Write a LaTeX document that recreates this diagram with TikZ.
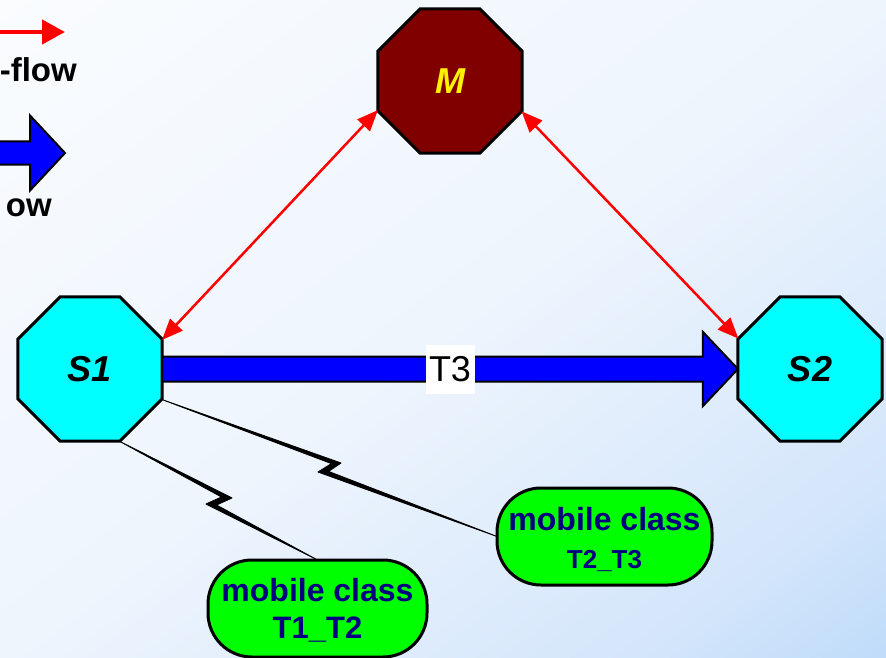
\documentclass[tikz,border=0pt]{standalone}
\usepackage{fontspec}
\setmainfont{Liberation Sans}
\usetikzlibrary{shapes.geometric,arrows.meta,calc}
\definecolor{mfill}{RGB}{128,0,0}
\definecolor{sfill}{RGB}{0,255,255}
\definecolor{gfill}{RGB}{0,255,0}
\definecolor{navytext}{RGB}{0,0,128}
\definecolor{flowblue}{RGB}{0,0,255}
\definecolor{flowred}{RGB}{255,0,0}
\definecolor{bgmid}{RGB}{238,245,253}
\definecolor{bgthree}{RGB}{212,230,251}
\definecolor{bgend}{RGB}{160,204,248}
% diagonal wash: white at the top left, light blue at the bottom right
\pgfdeclarehorizontalshading{bgwash}{100bp}{color(0bp)=(white); color(50bp)=(bgmid);
  color(75bp)=(bgthree); color(100bp)=(bgend)}
\tikzset{
  octo/.style={regular polygon, regular polygon sides=8, minimum size=156pt,
    inner sep=0pt, outer sep=0pt, draw=black, line width=3pt,
    font=\fontsize{36}{36}\selectfont\bfseries\itshape},
  mobbox/.style={draw=black, fill=gfill, line width=3pt, rounded corners=44pt,
    text=navytext, align=center, inner sep=0pt, outer sep=0pt,
    minimum height=97pt},
  redflow/.style={draw=flowred, line width=2.5pt,
    {Triangle[length=21pt,width=17pt]}-{Triangle[length=21pt,width=17pt]}},
  bluebody/.style={fill=flowblue, draw=black, line width=2pt, line join=miter},
  bolt/.style={fill=black, draw=black, line width=0.9pt, line join=round},
  legendtext/.style={anchor=base east, inner sep=0pt,
    font=\fontsize{33}{33}\selectfont\bfseries}
}
\begin{document}
\begin{tikzpicture}[x=1pt,y=-1pt]
\useasboundingbox (0,0) rectangle (886,658);
\clip (0,0) rectangle (886,658);
\shade[shading=bgwash, shading angle=-53.4] (0,0) rectangle (886,658);

% legend
\coordinate (lr0) at (-10,32);
\coordinate (lr1) at (65,32);
\draw[flowred, line width=4.5pt, -{Triangle[length=23pt,width=24pt]}] (lr0) -- (lr1);
\node[legendtext] (lt1) at (77,82) {-flow};
\coordinate (lb0) at (-10,153);
\coordinate (lb1) at (65,153);
\draw[bluebody] ($(lb0)+(0,-11.5)$) -- ($(lb1)+(-35,-11.5)$) -- ($(lb1)+(-35,-37.5)$)
  -- (lb1) -- ($(lb1)+(-35,37.5)$) -- ($(lb1)+(-35,11.5)$) -- ($(lb0)+(0,11.5)$) -- cycle;
\node[legendtext] (lt2) at (52,216) {ow};

% stations
\node[octo, fill=mfill, text=yellow] (M) at (450,81) {M};
\node[octo, fill=sfill] (S1) at (90,369) {S1};
\node[octo, fill=sfill] (S2) at (810,369) {S2};

% mobile classes
\node[mobbox, minimum width=219pt, font=\fontsize{32}{37}\selectfont\bfseries]
  (c12) at (317.5,608.5)
  {\rule{0pt}{27pt}mobile class\\ \fontsize{31}{37}\selectfont T1\_T2};
\node[mobbox, minimum width=215pt, font=\fontsize{32}{38}\selectfont\bfseries]
  (c23) at (604.5,536.5)
  {\rule{0pt}{30pt}mobile class\\ \fontsize{26}{38}\selectfont T2\_T3};

% control links
\draw[redflow] (M.202.5) -- (S1.22.5);
\draw[redflow] (M.337.5) -- (S2.157.5);

% transfer T3
\draw[bluebody] ($(S1.east)+(0,-12.5)$) -- ($(S2.west)+(-35,-12.5)$)
  -- ($(S2.west)+(-35,-37)$) -- (S2.west) -- ($(S2.west)+(-35,37)$)
  -- ($(S2.west)+(-35,12.5)$) -- ($(S1.east)+(0,12.5)$) -- cycle;
\node[fill=white, inner sep=0pt, minimum width=49pt, minimum height=49pt,
  font=\fontsize{36}{36}\selectfont] (t3) at ($(S1.east)!0.5!(S2.west)$) {T3};

% radio links
\coordinate (a1) at (S1.337.5);
\coordinate (p1) at (341,463);
\coordinate (q1) at (328.5,471.4);
\coordinate (r1) at (318,472);
\coordinate (s1) at (331.5,463.6);
\draw[bolt] (a1) -- (p1) -- (q1) -- (c23.west) -- (r1) -- (s1) -- cycle;
\coordinate (a2) at (S1.292.5);
\coordinate (p2) at (232,498);
\coordinate (q2) at (216.5,505);
\coordinate (r2) at (206,504);
\coordinate (s2) at (221.5,497);
\draw[bolt] (a2) -- (p2) -- (q2) -- (c12.north) -- (r2) -- (s2) -- cycle;
\end{tikzpicture}
\end{document}
